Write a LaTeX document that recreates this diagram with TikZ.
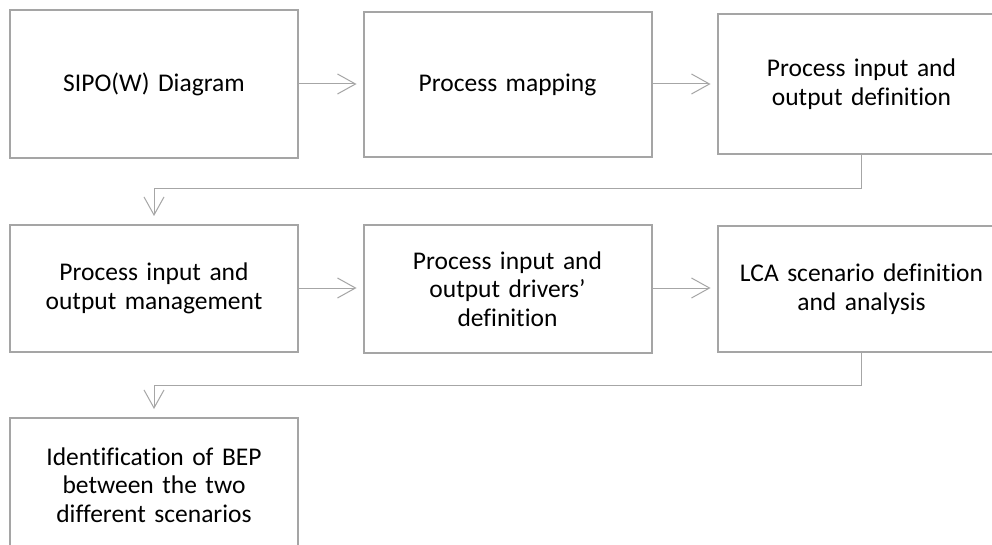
\documentclass[tikz,border=0pt]{standalone}
\usepackage{fontspec}
\setmainfont{Carlito}[Ligatures=NoCommon]
\usetikzlibrary{arrows.meta}
\definecolor{boxgray}{HTML}{A5A5A5}
\definecolor{linegray}{HTML}{A6A6A6}
\begin{document}
\begin{tikzpicture}[x=1pt,y=-1pt,
  stepbox/.style={draw=boxgray, line width=2pt, fill=white, minimum width=288pt,
    text width=275pt, align=center, inner sep=0pt,
    font=\fontsize{25.5}{28.5}\selectfont},
  conn/.style={draw=linegray, line width=1pt, -{Straight Barb[length=18pt,width=20pt,line width=1pt]}},
  connh/.style={conn, shorten >=6pt},
  connv/.style={conn, shorten >=8pt}]
\useasboundingbox (0,0) rectangle (992,545);
\clip (0,0) rectangle (992,545);
\fill[white] (0,0) rectangle (992,545);
% row 1
\node[stepbox, minimum height=148pt] (b1) at (154,84) {SIPO(W) Diagram};
\node[stepbox, minimum height=145pt] (b2) at (507.5,84.5) {Process mapping};
\node[stepbox, minimum height=140pt] (b3) at (861.5,84) {Process input and\\output definition};
% row 2
\node[stepbox, minimum height=127pt] (b4) at (154,288.5) {Process input and\\output management};
\node[stepbox, minimum height=128pt] (b5) at (507.5,289) {Process input and\\output drivers’\\definition};
\node[stepbox, minimum height=126pt] (b6) at (861.5,289) {LCA scenario definition\\and analysis};
% row 3
\node[stepbox, minimum height=134pt] (b7) at (154,485) {Identification of BEP\\between the two\\different scenarios};
% junctions
\coordinate (j1) at (154,189);
\coordinate (j2) at (154,385);
% connectors
\draw[connh] (b1.east |- 0,84) -- (b2.west |- 0,84);
\draw[connh] (b2.east |- 0,84) -- (b3.west |- 0,84);
\draw[connv] (b3.south) |- (j1) -- (b4.north);
\draw[connh] (b4.east |- 0,288) -- (b5.west |- 0,288);
\draw[connh] (b5.east |- 0,288) -- (b6.west |- 0,288);
\draw[connv] (b6.south) |- (j2) -- (b7.north);
\end{tikzpicture}
\end{document}
